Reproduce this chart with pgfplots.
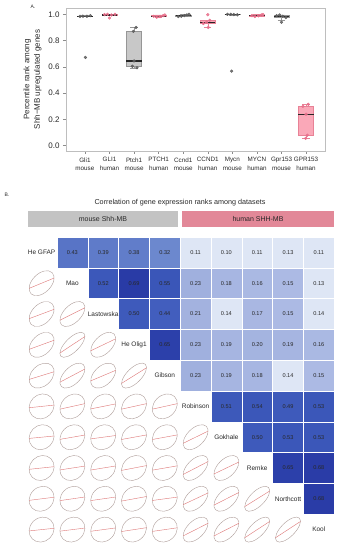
\documentclass[border=0pt]{standalone}
\usepackage{fontspec}
\setmainfont{Liberation Sans}
\usepackage{pgfplots}
\usepackage{pgfplotstable}
\pgfplotsset{compat=1.18}
\usepgfplotslibrary{statistics}

\definecolor{gbox}{RGB}{200,200,200}
\definecolor{gedge}{RGB}{150,150,150}
\definecolor{gpt}{RGB}{95,95,95}
\definecolor{pbox}{RGB}{250,168,184}
\definecolor{pedge}{RGB}{232,130,150}
\definecolor{ppt}{RGB}{232,112,140}
\definecolor{framecol}{RGB}{190,190,190}
\definecolor{tickcol}{RGB}{140,140,140}
\definecolor{ellcol}{RGB}{176,160,156}
\definecolor{redln}{RGB}{222,122,122}
\definecolor{hdrgray}{RGB}{195,195,195}
\definecolor{hdrpink}{RGB}{226,136,152}
\definecolor{txt}{RGB}{40,40,40}

\pgfdeclareplotmark{corrEll}{%
  \pgfsetlinewidth{0.42pt}%
  \pgfmathsetmacro\corrEa{12.5*sqrt(1+\corrR)}%
  \pgfmathsetmacro\corrEb{12.5*sqrt(1-\corrR)}%
  \pgfmathsetmacro\corrEy{12.0*\corrR}%
  \pgfsetstrokecolor{ellcol}%
  \pgfpathellipse{\pgfpointorigin}{\pgfpointpolar{45}{\corrEa pt}}{\pgfpointpolar{135}{\corrEb pt}}%
  \pgfusepathqstroke
  \pgfsetstrokecolor{redln}%
  \pgfpathmoveto{\pgfpoint{-12.5pt}{-\corrEy pt}}%
  \pgfpathlineto{\pgfpoint{12.5pt}{\corrEy pt}}%
  \pgfusepathqstroke
}

\pgfplotstableread{
x y r
2 1 0.43
3 1 0.39
4 1 0.38
5 1 0.32
6 1 0.11
7 1 0.10
8 1 0.11
9 1 0.13
10 1 0.11
3 2 0.52
4 2 0.69
5 2 0.55
6 2 0.23
7 2 0.18
8 2 0.16
9 2 0.15
10 2 0.13
4 3 0.50
5 3 0.44
6 3 0.21
7 3 0.14
8 3 0.17
9 3 0.15
10 3 0.14
5 4 0.65
6 4 0.23
7 4 0.19
8 4 0.20
9 4 0.19
10 4 0.16
6 5 0.23
7 5 0.19
8 5 0.18
9 5 0.14
10 5 0.15
7 6 0.51
8 6 0.54
9 6 0.49
10 6 0.53
8 7 0.50
9 7 0.53
10 7 0.53
9 8 0.65
10 8 0.68
10 9 0.68
}\heatdata

\begin{document}
\begin{tikzpicture}
\path[use as bounding box] (0pt,0pt) rectangle (341pt,550pt);

% ---------------- Panel A ----------------
\begin{axis}[
  at={(66pt,399pt)}, anchor=south west, scale only axis,
  width=259pt, height=143pt,
  xmin=0.23, xmax=10.77, ymin=-0.04, ymax=1.048,
  axis line style={framecol, line width=0.6pt},
  tick style={tickcol, line width=0.5pt}, tick align=outside, major tick length=3pt,
  tick pos=left,
  xtick={1,2,3,4,5,6,7,8,9,10},
  xticklabels={{Gli1\\mouse},{GLI1\\human},{Ptch1\\mouse},{PTCH1\\human},{Ccnd1\\mouse},{CCND1\\human},{Mycn\\mouse},{MYCN\\human},{Gpr153\\mouse},{GPR153\\human}},
  xticklabel style={align=center, font=\fontsize{6.3}{8.5}\selectfont, text=txt},
  ytick={0,0.2,0.4,0.6,0.8,1},
  yticklabel style={/pgf/number format/fixed, /pgf/number format/fixed zerofill, /pgf/number format/precision=1, font=\fontsize{8}{9}\selectfont, text=txt},
  /pgf/number format/assume math mode=true,
  ylabel={Percentile rank among\\Shh−MB upregulated genes},
  ylabel style={align=center, font=\fontsize{8}{10.5}\selectfont, text=txt},
  boxplot/draw direction=y,
  boxplot/box extend=0.62, boxplot/whisker extend=0.3,
  boxplot/every median/.style={draw=black!85, line width=1.1pt},
]
% mouse boxes (gray)
\addplot[boxplot prepared={draw position=1, lower whisker=0.983, lower quartile=0.984, median=0.985, upper quartile=0.988, upper whisker=0.99}, fill=gbox, draw=gedge] coordinates {};
\addplot[boxplot prepared={draw position=3, lower whisker=0.593, lower quartile=0.605, median=0.645, upper quartile=0.87, upper whisker=0.90}, fill=gbox, draw=gedge] coordinates {};
\addplot[boxplot prepared={draw position=5, lower whisker=0.983, lower quartile=0.985, median=0.99, upper quartile=0.995, upper whisker=1.0}, fill=gbox, draw=gedge] coordinates {};
\addplot[boxplot prepared={draw position=7, lower whisker=0.996, lower quartile=0.998, median=1.0, upper quartile=1.0, upper whisker=1.0}, fill=gbox, draw=gedge] coordinates {};
\addplot[boxplot prepared={draw position=9, lower whisker=0.955, lower quartile=0.975, median=0.985, upper quartile=0.99, upper whisker=0.995}, fill=gbox, draw=gedge] coordinates {};
% human boxes (pink)
\addplot[boxplot prepared={draw position=2, lower whisker=0.99, lower quartile=0.99, median=0.995, upper quartile=0.998, upper whisker=1.0}, fill=pbox, draw=pedge] coordinates {};
\addplot[boxplot prepared={draw position=4, lower whisker=0.978, lower quartile=0.983, median=0.985, upper quartile=0.99, upper whisker=0.995}, fill=pbox, draw=pedge] coordinates {};
\addplot[boxplot prepared={draw position=6, lower whisker=0.90, lower quartile=0.93, median=0.94, upper quartile=0.955, upper whisker=0.955}, fill=pbox, draw=pedge] coordinates {};
\addplot[boxplot prepared={draw position=8, lower whisker=0.983, lower quartile=0.988, median=0.99, upper quartile=0.995, upper whisker=0.998}, fill=pbox, draw=pedge] coordinates {};
\addplot[boxplot prepared={draw position=10, lower whisker=0.056, lower quartile=0.08, median=0.24, upper quartile=0.30, upper whisker=0.315}, fill=pbox, draw=pedge] coordinates {};
% mouse points
\addplot[only marks, mark=*, mark size=1.4pt, color=gpt, fill opacity=0.85] coordinates {
(0.80,0.984) (0.92,0.986) (1.08,0.985) (1.22,0.99) (1.02,0.672)
(3.08,0.90) (2.97,0.87) (3.0,0.645) (2.93,0.605) (3.12,0.593)
(4.80,0.983) (4.92,0.985) (5.05,0.99) (5.15,0.995) (5.24,1.0)
(6.80,1.0) (6.93,1.0) (7.06,0.998) (7.20,0.996) (6.97,0.568)
(8.80,0.99) (8.92,0.995) (9.05,0.985) (9.18,0.975) (9.0,0.94)
};
% human points
\addplot[only marks, mark=*, mark size=1.4pt, color=ppt, fill opacity=0.85] coordinates {
(1.80,0.998) (1.92,1.0) (2.08,0.995) (2.22,1.0) (2.0,0.972)
(3.80,0.985) (3.92,0.978) (4.06,0.983) (4.18,0.99) (4.25,0.995)
(5.82,0.93) (5.95,0.94) (6.08,0.955) (6.0,0.997) (6.02,0.90)
(7.80,0.99) (7.92,0.983) (8.06,0.988) (8.18,0.995) (8.25,0.998)
(10.09,0.315) (9.87,0.30) (10.0,0.24) (10.05,0.08) (9.98,0.056)
};
\end{axis}
\node[font=\fontsize{5}{6}\selectfont, text=txt] at (33pt,543pt) {A.};

% ---------------- Panel B ----------------
\begin{axis}[
  at={(26.2pt,5pt)}, anchor=south west, scale only axis,
  width=308pt, height=308pt,
  xmin=0.5, xmax=10.5, ymin=0.5, ymax=10.5, y dir=reverse,
  hide axis, clip=false,
  colormap={heat}{rgb255(0cm)=(222,230,245); rgb255(14cm)=(222,230,245); rgb255(15cm)=(172,186,228); rgb255(23cm)=(160,176,222); rgb255(30cm)=(112,140,208); rgb255(43cm)=(88,116,198); rgb255(44cm)=(66,94,190); rgb255(55cm)=(58,86,184); rgb255(65cm)=(44,64,170); rgb255(70cm)=(40,58,165)},
  point meta min=0, point meta max=0.7,
]
% heatmap cells (upper triangle)
\addplot[scatter, only marks, mark=square*, mark size=15.4pt, line width=0.6pt,
  scatter/use mapped color={draw=white, fill=mapped color},
  point meta=explicit,
] table[meta=r] {\heatdata};
% cell values
\addplot[only marks, mark=*, mark size=0pt, mark options={draw=none, fill=none},
  point meta=explicit,
  nodes near coords={\pgfmathprintnumber[fixed,fixed zerofill,precision=2,assume math mode=true]{\pgfplotspointmeta}},
  every node near coord/.append style={anchor=center, font=\fontsize{5.6}{6}\selectfont, text=txt},
] table[meta=r] {\heatdata};
% ellipses (lower triangle)
\addplot[scatter, only marks, mark=corrEll, point meta=explicit,
  visualization depends on={value \thisrow{r} \as \corrR},
] table[meta=r] {
x y r
1 2 0.43
1 3 0.39
2 3 0.52
1 4 0.38
2 4 0.69
3 4 0.50
1 5 0.32
2 5 0.55
3 5 0.44
4 5 0.65
1 6 0.11
2 6 0.23
3 6 0.21
4 6 0.23
5 6 0.23
1 7 0.10
2 7 0.18
3 7 0.14
4 7 0.19
5 7 0.19
6 7 0.51
1 8 0.11
2 8 0.16
3 8 0.17
4 8 0.20
5 8 0.18
6 8 0.54
7 8 0.50
1 9 0.13
2 9 0.15
3 9 0.15
4 9 0.19
5 9 0.14
6 9 0.49
7 9 0.53
8 9 0.65
1 10 0.11
2 10 0.13
3 10 0.14
4 10 0.16
5 10 0.15
6 10 0.53
7 10 0.53
8 10 0.68
9 10 0.68
};
% diagonal labels
\addplot[only marks, mark=*, mark size=0pt, mark options={draw=none, fill=none},
  point meta=explicit symbolic, nodes near coords,
  every node near coord/.append style={anchor=center, font=\fontsize{6.5}{7}\selectfont, text=txt},
] coordinates {
(1,1) [He GFAP] (2,2) [Mao] (3,3) [Lastowska] (4,4) [He Olig1] (5,5) [Gibson]
(6,6) [Robinson] (7,7) [Gokhale] (8,8) [Remke] (9,9) [Northcott] (10,10) [Kool]
};
\end{axis}

\fill[hdrgray] (28pt,323pt) rectangle (178pt,339pt);
\node[font=\fontsize{7}{8}\selectfont, text=txt] at (103pt,331pt) {mouse Shh-MB};
\fill[hdrpink] (182pt,323pt) rectangle (334pt,339pt);
\node[font=\fontsize{7}{8}\selectfont, text=txt] at (258pt,331pt) {human SHH-MB};
\node[font=\fontsize{7.2}{8}\selectfont, text=txt] at (180pt,347pt) {Correlation of gene expression ranks among datasets};
\node[font=\fontsize{5}{6}\selectfont, text=txt] at (7pt,355pt) {B.};
\end{tikzpicture}
\end{document}
